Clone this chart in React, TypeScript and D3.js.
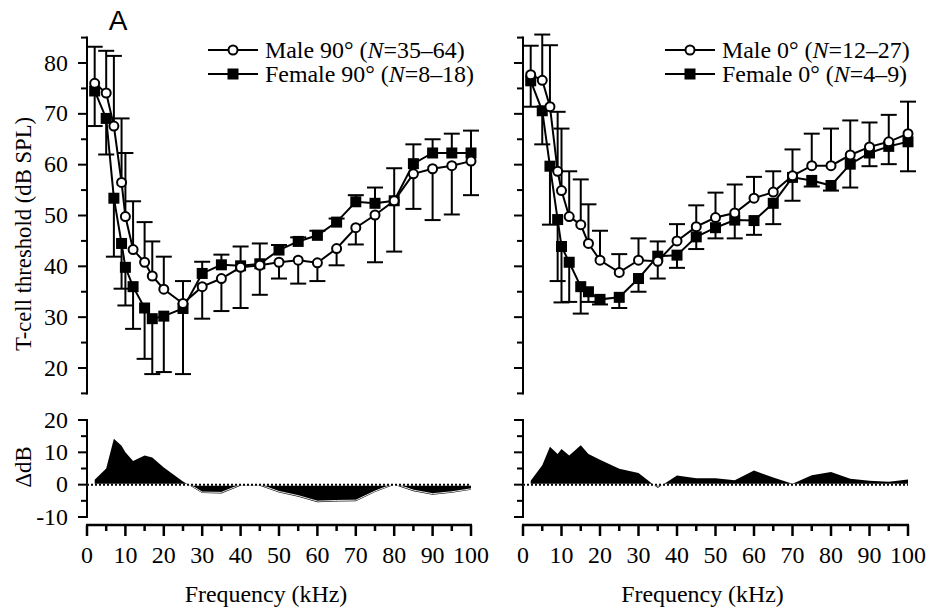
import React from 'react';
import * as d3 from 'd3';

// ---------- data ----------
const freqs = [2, 5, 7, 9, 10, 12, 15, 17, 20, 25, 30, 35, 40, 45, 50, 55, 60, 65, 70, 75, 80, 85, 90, 95, 100];

// Panel A (90°)
const male90 = [76.0, 74.1, 67.6, 56.5, 49.8, 43.3, 40.8, 38.1, 35.5, 32.7, 36.0, 37.6, 39.8, 40.2, 40.8, 41.2, 40.7, 43.5, 47.6, 50.1, 52.9, 58.2, 59.2, 59.8, 60.7];
const male90Bar = [83.2, 82.4, 81.4, 69.1, 62.3, 52.8, 48.7, 44.9, 41.9, 37.1, 29.7, 31.2, 31.8, 34.4, 37.6, 36.6, 37.1, 40.2, 44.3, 40.8, 42.9, 51.3, 49.1, 50.2, 54.0];
const female90 = [74.5, 69.1, 53.4, 44.5, 39.8, 36.0, 31.8, 29.7, 30.2, 31.7, 38.6, 40.3, 40.1, 40.5, 43.2, 44.9, 46.1, 48.7, 52.7, 52.4, 52.9, 60.2, 62.3, 62.3, 62.3];
const female90Bar = [67.6, 62.0, 41.9, 35.6, 32.3, 27.7, 21.8, 18.8, 19.2, 18.8, 40.9, 42.3, 43.9, 44.5, 44.2, 45.7, 47.0, 49.4, 54.0, 55.5, 59.3, 64.0, 65.0, 66.1, 66.7];

// Panel (0°)
const male0 = [77.7, 76.6, 71.4, 58.7, 54.9, 49.8, 48.2, 44.5, 41.2, 38.8, 41.2, 41.0, 45.0, 47.8, 49.6, 50.5, 53.4, 54.6, 57.8, 59.8, 59.8, 61.9, 63.5, 64.5, 66.1];
const male0Bar = [83.4, 85.6, 83.5, 70.4, 67.1, 58.7, 57.1, 52.2, 47.0, 42.4, 45.5, 44.9, 48.3, 52.0, 54.5, 56.1, 57.6, 58.7, 63.0, 66.1, 67.1, 68.7, 68.3, 69.8, 72.4];
const female0 = [76.5, 70.6, 59.7, 49.2, 43.9, 40.8, 36.0, 35.0, 33.5, 33.9, 37.6, 42.0, 42.2, 45.8, 47.6, 49.1, 49.0, 52.4, 57.5, 56.9, 55.9, 60.1, 62.3, 63.6, 64.5];
const female0Bar = [71.4, 64.0, 48.2, 37.1, 32.9, 33.0, 30.7, 33.0, 32.5, 31.8, 35.0, 37.6, 39.7, 43.4, 45.5, 45.5, 46.2, 48.3, 52.9, 55.7, 54.9, 55.5, 59.7, 60.1, 58.7];

const legend90 = [
  { label: 'Male 90° (', n: '=35–64)' },
  { label: 'Female 90° (', n: '=8–18)' },
];
const legend0 = [
  { label: 'Male 0° (', n: '=12–27)' },
  { label: 'Female 0° (', n: '=4–9)' },
];

const thrTicks = d3.range(15, 86, 5);
const thrLabels = [20, 30, 40, 50, 60, 70, 80];
const dTicks = d3.range(-10, 21, 5);
const dLabels = [-10, 0, 10, 20];
const xTicks = d3.range(0, 101, 5);
const xLabels = d3.range(0, 101, 10);

// ---------- layout ----------
const SERIF = "'Liberation Serif', 'Times New Roman', Times, serif";
const FS = 23;
const SX = 1.04; // horizontal stretch of the original typesetting
const yTop = d3.scaleLinear().domain([15, 85]).range([393.4, 37.6]);
const yBot = d3.scaleLinear().domain([-10, 20]).range([517, 420]);
const X_AXIS_Y = 525;

function T({ x, y, anchor = 'start', dy, children }: any) {
  return (
    <text transform={`translate(${x},${y}) scale(${SX},1)`} textAnchor={anchor} dy={dy}
      fontFamily={SERIF} fontSize={FS} fill="#000">{children}</text>
  );
}

type PanelProps = {
  id: string; x0: number; x1: number;
  male: number[]; maleBar: number[]; female: number[]; femaleBar: number[];
  legend: { label: string; n: string }[]; legendX: number; labels: boolean;
};

function Panel({ id, x0, x1, male, maleBar, female, femaleBar, legend, legendX, labels }: PanelProps) {
  const x = d3.scaleLinear().domain([0, 100]).range([x0, x1]);
  const line = d3.line<number>().x((_, i) => x(freqs[i])).y((d) => yTop(d));
  const delta = male.map((m, i) => m - female[i]);
  const area = d3.area<number>().x((_, i) => x(freqs[i])).y0(yBot(0)).y1((d) => yBot(d));
  const dLine = d3.line<number>().x((_, i) => x(freqs[i])).y((d) => yBot(d));
  const cap = 8;
  const bars = (vals: number[], ends: number[], key: string) =>
    vals.map((v, i) => (
      <g key={key + i}>
        <line x1={x(freqs[i])} x2={x(freqs[i])} y1={yTop(v)} y2={yTop(ends[i])} stroke="#000" strokeWidth={2} />
        <line x1={x(freqs[i]) - cap} x2={x(freqs[i]) + cap} y1={yTop(ends[i])} y2={yTop(ends[i])} stroke="#000" strokeWidth={2} />
      </g>
    ));
  return (
    <g>
      <defs>
        <clipPath id={'neg' + id}>
          <rect x={x0} y={yBot(0) + 1.5} width={x1 - x0 + 2} height={40} />
        </clipPath>
      </defs>
      {/* top y axis */}
      <line x1={x0} x2={x0} y1={yTop(15) + 1} y2={yTop(85) - 1} stroke="#000" strokeWidth={2} />
      {thrTicks.map((t) => (
        <line key={'tt' + t} x1={x0 - (t % 10 === 0 ? 9 : 6)} x2={x0} y1={yTop(t)} y2={yTop(t)} stroke="#000" strokeWidth={2} />
      ))}
      {labels && thrLabels.map((t) => (
        <T key={'tl' + t} x={x0 - 19} y={yTop(t)} dy="0.33em" anchor="end">{t}</T>
      ))}
      {/* bottom y axis */}
      <line x1={x0} x2={x0} y1={yBot(-10) + 1} y2={yBot(20) - 1} stroke="#000" strokeWidth={2} />
      {dTicks.map((t) => (
        <line key={'dt' + t} x1={x0 - (t % 10 === 0 ? 9 : 6)} x2={x0} y1={yBot(t)} y2={yBot(t)} stroke="#000" strokeWidth={2} />
      ))}
      {labels && dLabels.map((t) => (
        <T key={'dl' + t} x={x0 - 19} y={yBot(t)} dy="0.33em" anchor="end">{t}</T>
      ))}
      {/* x axis */}
      <line x1={x(0) - 1} x2={x(100) + 1} y1={X_AXIS_Y} y2={X_AXIS_Y} stroke="#000" strokeWidth={2.5} />
      {xTicks.map((t) => (
        <line key={'xt' + t} x1={x(t)} x2={x(t)} y1={X_AXIS_Y} y2={X_AXIS_Y + (t % 10 === 0 ? 11 : 6)} stroke="#000" strokeWidth={2.5} />
      ))}
      {xLabels.map((t) => (
        <T key={'xl' + t} x={x(t)} y={563} anchor="middle">{t}</T>
      ))}
      <T x={(x0 + x1) / 2 - 13} y={602} anchor="middle">Frequency (kHz)</T>

      {/* delta area */}
      <path d={area(delta) || ''} fill="#000" />
      <g clipPath={`url(#neg${id})`}>
        <path d={dLine(delta) || ''} fill="none" stroke="#fff" strokeWidth={0.9} transform="translate(0,-1)" />
      </g>
      <line x1={x(0)} x2={x(100)} y1={yBot(0)} y2={yBot(0)} stroke="#fff" strokeWidth={2} />
      <line x1={x(0)} x2={x(100)} y1={yBot(0)} y2={yBot(0)} stroke="#000" strokeWidth={2} strokeDasharray="2,2" />

      {/* threshold curves */}
      {bars(female, femaleBar, 'fb')}
      {bars(male, maleBar, 'mb')}
      <path d={line(female) || ''} fill="none" stroke="#000" strokeWidth={2} />
      <path d={line(male) || ''} fill="none" stroke="#000" strokeWidth={2} />
      {female.map((v, i) => (
        <rect key={'fs' + i} x={x(freqs[i]) - 5.5} y={yTop(v) - 5.5} width={11} height={11} fill="#000" />
      ))}
      {male.map((v, i) => (
        <circle key={'mc' + i} cx={x(freqs[i])} cy={yTop(v)} r={4.5} fill="#fff" stroke="#000" strokeWidth={2} />
      ))}

      {/* legend */}
      {legend.map((l, i) => {
        const ly = 50 + i * 24;
        return (
          <g key={'lg' + i}>
            <line x1={legendX} x2={legendX + 50} y1={ly} y2={ly} stroke="#000" strokeWidth={2} />
            {i === 0 ? (
              <circle cx={legendX + 25} cy={ly} r={4.5} fill="#fff" stroke="#000" strokeWidth={2} />
            ) : (
              <rect x={legendX + 25 - 5.5} y={ly - 5.5} width={11} height={11} fill="#000" />
            )}
            <T x={legendX + 57} y={ly} dy="0.33em">
              {l.label}<tspan fontStyle="italic">N</tspan>{l.n}
            </T>
          </g>
        );
      })}
    </g>
  );
}

export default function App() {
  return (
    <svg width={940} height={610} viewBox="0 0 940 610" style={{ position: 'absolute', left: 0, top: 0, background: '#fff' }}>
      <rect width={940} height={610} fill="#fff" />
      <Panel id="a" x0={87} x1={471} male={male90} maleBar={male90Bar} female={female90} femaleBar={female90Bar}
        legend={legend90} legendX={208} labels={true} />
      <Panel id="b" x0={523} x1={908} male={male0} maleBar={male0Bar} female={female0} femaleBar={female0Bar}
        legend={legend0} legendX={665} labels={false} />
      <text x={118} y={30} textAnchor="middle" fontFamily="'Liberation Sans', Arial, sans-serif" fontSize={28} fill="#000">A</text>
      <text transform="translate(31,234) rotate(-90)" textAnchor="middle" fontFamily={SERIF} fontSize={22.7} fill="#000">T-cell threshold (dB SPL)</text>
      <text transform="translate(31,467) rotate(-90)" textAnchor="middle" fontFamily={SERIF} fontSize={22.7} fill="#000">ΔdB</text>
    </svg>
  );
}
